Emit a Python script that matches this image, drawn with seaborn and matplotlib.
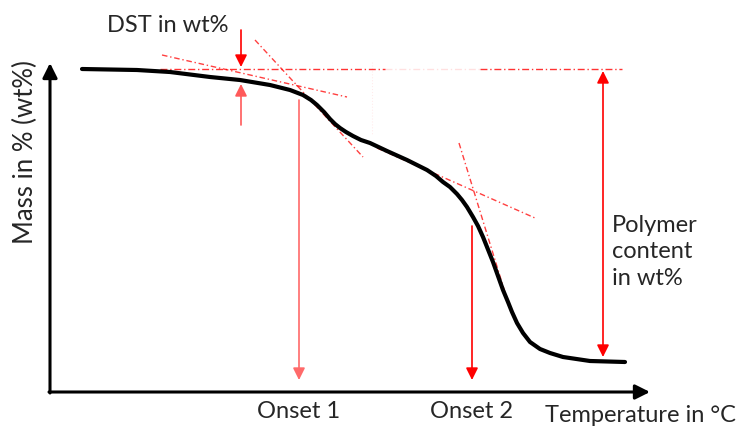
import matplotlib
matplotlib.use("Agg")
import matplotlib.pyplot as plt
import seaborn as sns
import pandas as pd

# Schematic TGA curve, in picture units (x: temperature, y: mass, down = less)
temperature = [82, 137, 170, 210, 240, 270, 290, 303, 311, 317, 324, 330, 335, 340, 346,
               353, 361, 370, 387, 407, 427, 436, 443, 450, 457, 462, 467, 473, 478,
               483, 493, 503, 508, 512, 517, 523, 530, 540, 550, 563, 590, 625]
mass = [69, 70, 72, 77, 80, 85, 90, 95, 100, 105, 112, 119, 124, 128, 132,
        136, 140, 143, 151, 160, 170, 176, 182, 187, 194, 200, 207, 217, 226,
        237, 262, 290, 302, 312, 323, 333, 342, 349, 353, 357, 361, 362]

# tangent construction lines (x0, x1), (y0, y1)
tangent_x = [(162, 347), (255, 363), (377, 535), (459, 511)]
tangent_y = [(55, 97), (40, 157), (148, 218), (143, 312)]

onset_labels = ["Onset 1", "Onset 2"]
onset_x = [299, 472]
onset_top = [100, 226]
baseline_y = 69
residue_y = 357

sns.set_theme(style="white")
plt.rcParams['font.family'] = ['Lato', 'DejaVu Sans']

fig = plt.figure(figsize=(7.43, 4.26), dpi=100)
ax = fig.add_axes([0, 0, 1, 1])

red = "#ff0000"

# baseline (dash-dot)
dd = (0, (5, 2, 1, 2))
ax.plot([160, 385], [baseline_y, baseline_y], color=red, lw=1.0, ls=dd, alpha=0.8)
ax.plot([385, 480], [baseline_y, baseline_y], color=red, lw=1.0, ls=dd, alpha=0.12)
ax.plot([480, 622], [baseline_y, baseline_y], color=red, lw=1.0, ls=dd, alpha=0.8)
ax.plot([372, 372], [62, 135], color=red, lw=0.8, ls=":", alpha=0.08)

for tx, ty in zip(tangent_x, tangent_y):
    ax.plot(tx, ty, color=red, lw=1.0, ls=(0, (4, 2, 1, 2)), alpha=0.75)

df = pd.DataFrame({"temperature": temperature, "mass": mass})
sns.lineplot(data=df, x="temperature", y="mass", color="black", lw=3,
             sort=False, estimator=None, ax=ax)
ax.lines[-1].set_solid_joinstyle("round")
ax.lines[-1].set_solid_capstyle("round")
ax.set_xlim(0, 743)
ax.set_ylim(426, 0)
ax.axis("off")

# axes arrows
arrow_k = dict(arrowstyle="-|>", lw=2.2, color="black", mutation_scale=22, shrinkA=0, shrinkB=0)
ax.annotate("", xy=(650, 392), xytext=(49, 392), arrowprops=arrow_k)
ax.annotate("", xy=(50, 63), xytext=(50, 393), arrowprops=arrow_k)

red_arrow = dict(arrowstyle="-|>", lw=1.2, color=red, mutation_scale=18, shrinkA=0, shrinkB=0)
# onset arrows
onset_colors = ["#ff6a6a", red]
for ox, top, c in zip(onset_x, onset_top, onset_colors):
    ax.annotate("", xy=(ox, 380), xytext=(ox, top), arrowprops=dict(red_arrow, color=c))
# DST arrows
ax.annotate("", xy=(241, 67), xytext=(241, 30), arrowprops=red_arrow)
ax.annotate("", xy=(241, 84), xytext=(241, 125), arrowprops=dict(red_arrow, color="#ff5a5a"))
# polymer content double arrow
ax.annotate("", xy=(603, residue_y), xytext=(603, 71),
            arrowprops=dict(arrowstyle="<|-|>", lw=1.2, color=red, mutation_scale=18,
                            shrinkA=0, shrinkB=0))

fs = 17
ax.text(168, 26, "DST in wt%", fontsize=fs, ha="center", va="center")
ax.text(25, 152, "Mass in % (wt%)", fontsize=18.5, ha="center", va="center", rotation=90)
for lab, ox in zip(onset_labels, onset_x):
    ax.text(ox, 411, lab, fontsize=fs, ha="center", va="center")
ax.text(545, 415, "Temperature in °C", fontsize=fs, ha="left", va="center")
ax.text(612, 252, "Polymer\ncontent\nin wt%", fontsize=fs, ha="left", va="center",
        linespacing=1.35)

fig.savefig("out.png", dpi=100)
